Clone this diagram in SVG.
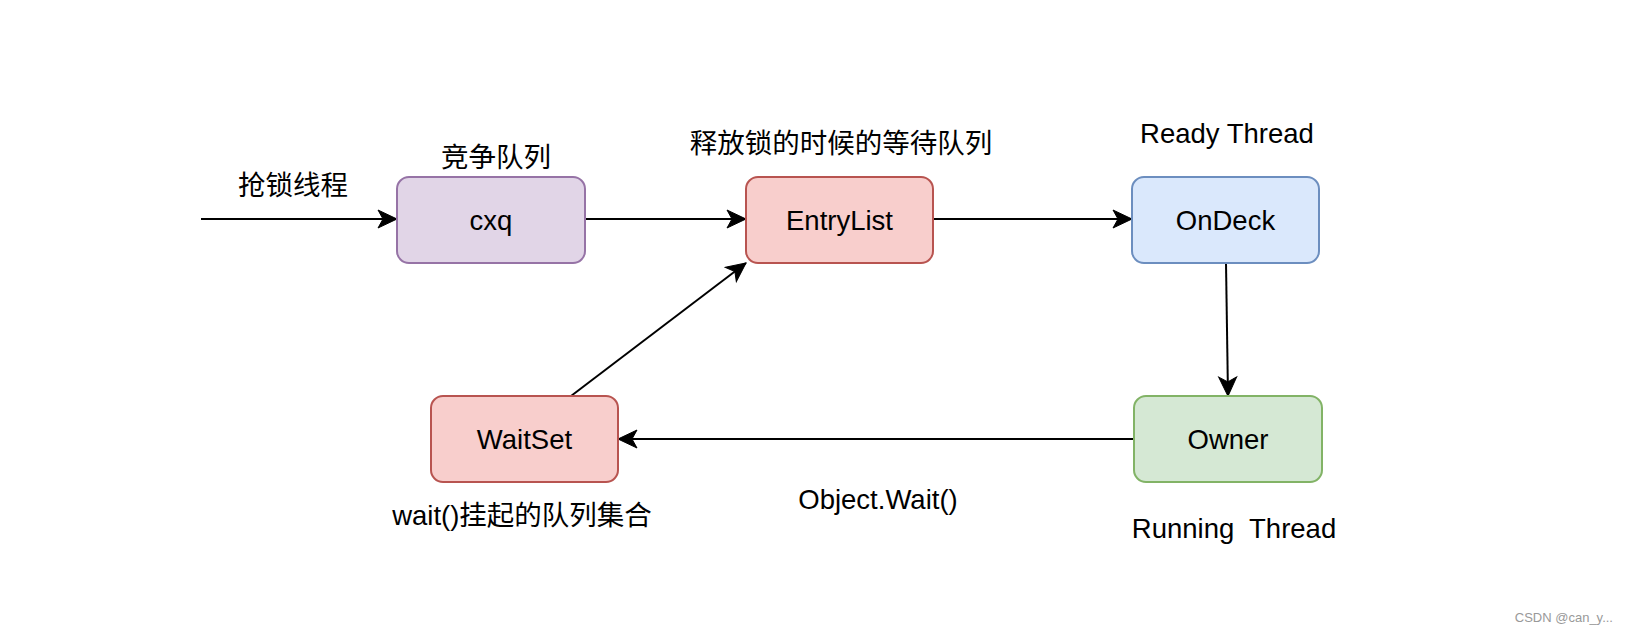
<svg xmlns="http://www.w3.org/2000/svg" width="1628" height="632" viewBox="0 0 1628 632">
<style>
.t{font-family:"Liberation Sans","Noto Sans CJK SC",sans-serif;font-size:27.5px;fill:#000;text-anchor:middle}
.box{stroke-width:2}
.edge{stroke:#000;stroke-width:2;fill:none}
</style>
<defs>
<marker id="arr" markerUnits="userSpaceOnUse" viewBox="-20 -10 22 20" refX="0" refY="0" markerWidth="22" markerHeight="20" orient="auto" overflow="visible">
<path d="M-19,-9 L0,0 L-19,9 L-14,0 Z" fill="#000" stroke="#000" stroke-width="1"/>
</marker>
</defs>
<rect width="1628" height="632" fill="#fff"/>
<g id="connectors">
<line class="edge" x1="201" y1="219" x2="397" y2="219" marker-end="url(#arr)"/>
<line class="edge" x1="585" y1="219" x2="746" y2="219" marker-end="url(#arr)"/>
<line class="edge" x1="933" y1="219" x2="1132" y2="219" marker-end="url(#arr)"/>
<line class="edge" x1="1226" y1="263" x2="1228" y2="396" marker-end="url(#arr)"/>
<line class="edge" x1="1134" y1="439" x2="618" y2="439" marker-end="url(#arr)"/>
<line class="edge" x1="571" y1="396" x2="746" y2="263" marker-end="url(#arr)"/>
</g>
<g id="label-qiangsuo"><text class="t" x="293" y="195">抢锁线程</text></g>
<g id="cxq">
<rect class="box" x="397" y="177" width="188" height="86" rx="12" fill="#e1d5e7" stroke="#9673a6"/>
<text class="t" x="491" y="230">cxq</text>
<text class="t" x="496" y="167">竞争队列</text>
</g>
<g id="EntryList">
<rect class="box" x="746" y="177" width="187" height="86" rx="12" fill="#f8cecc" stroke="#b85450"/>
<text class="t" x="839.5" y="230">EntryList</text>
<text class="t" x="841" y="153">释放锁的时候的等待队列</text>
</g>
<g id="OnDeck">
<rect class="box" x="1132" y="177" width="187" height="86" rx="12" fill="#dae8fc" stroke="#6c8ebf"/>
<text class="t" x="1225.5" y="230">OnDeck</text>
<text class="t" x="1227" y="143">Ready Thread</text>
</g>
<g id="Owner">
<rect class="box" x="1134" y="396" width="188" height="86" rx="12" fill="#d5e8d4" stroke="#82b366"/>
<text class="t" x="1228" y="449">Owner</text>
<text class="t" x="1234" y="538" xml:space="preserve">Running  Thread</text>
</g>
<g id="WaitSet">
<rect class="box" x="431" y="396" width="187" height="86" rx="12" fill="#f8cecc" stroke="#b85450"/>
<text class="t" x="524.5" y="449">WaitSet</text>
<text class="t" x="522" y="525">wait()挂起的队列集合</text>
</g>
<g id="label-objectwait"><text class="t" x="878" y="509">Object.Wait()</text></g>
<text x="1613" y="622" font-family="Liberation Sans, sans-serif" font-size="13" fill="#999" text-anchor="end">CSDN @can_y...</text>
</svg>
